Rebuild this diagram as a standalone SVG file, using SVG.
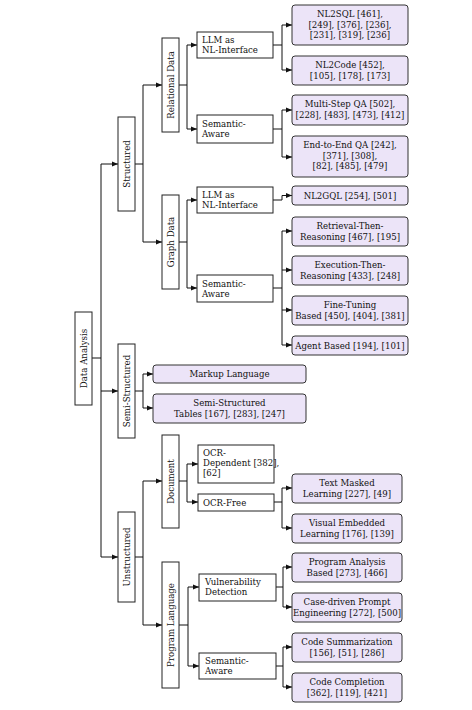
<svg xmlns="http://www.w3.org/2000/svg" width="472" height="710" viewBox="0 0 472 710">
<defs>
<marker id="ah" markerUnits="userSpaceOnUse" markerWidth="6" markerHeight="6" refX="6" refY="3" orient="auto"><path d="M0,0.6 L6,3 L0,5.4 Z" fill="#111"/></marker>
<style>
.n{fill:#fff;stroke:#222;stroke-width:1}
.l{fill:#ece4f8;stroke:#333;stroke-width:1}
text{font-family:"DejaVu Serif","Liberation Serif",serif;font-size:8.6px;fill:#111}
.c{text-anchor:middle}
.v{text-anchor:middle;dominant-baseline:central}
#edges path{fill:none;stroke:#111;stroke-width:1}
.a{marker-end:url(#ah)}
</style>
</defs>
<rect width="472" height="710" fill="#fff"/>
<g id="edges">
<path d="M92,358 H101 M101,164 V557"/>
<path class="a" d="M101,164 H118"/><path class="a" d="M101,391 H118"/><path class="a" d="M101,557 H118"/>
<path d="M135,164 H143 M143,85 V242"/>
<path class="a" d="M143,85 H162"/><path class="a" d="M143,242 H162"/>
<path d="M179,85 H187 M187,45 V129"/>
<path class="a" d="M187,45 H197"/><path class="a" d="M187,129 H197"/>
<path d="M273,45 H282 M282,25 V70"/>
<path class="a" d="M282,25 H292"/><path class="a" d="M282,70 H292"/>
<path d="M273,129 H282 M282,110 V157"/>
<path class="a" d="M282,110 H292"/><path class="a" d="M282,157 H292"/>
<path d="M179,242 H187 M187,200 V288"/>
<path class="a" d="M187,200 H197"/><path class="a" d="M187,288 H197"/>
<path class="a" d="M273,200 H282 V195.5 H292"/>
<path d="M273,288 H282 M282,231 V345"/>
<path class="a" d="M282,231 H292"/><path class="a" d="M282,270 H292"/><path class="a" d="M282,310 H292"/><path class="a" d="M282,345 H292"/>
<path d="M135,391 H143 M143,374 V408"/>
<path class="a" d="M143,374 H153"/><path class="a" d="M143,408 H153"/>
<path d="M135,557 H143 M143,481 V625"/>
<path class="a" d="M143,481 H162"/><path class="a" d="M143,625 H162"/>
<path d="M179,481 H187 M187,464 V502"/>
<path class="a" d="M187,464 H198"/><path class="a" d="M187,502 H198"/>
<path d="M274,502 H282 M282,488 V528"/>
<path class="a" d="M282,488 H292"/><path class="a" d="M282,528 H292"/>
<path d="M179,625 H188 M188,587 V666"/>
<path class="a" d="M188,587 H199"/><path class="a" d="M188,666 H199"/>
<path d="M276,587 H283 M283,567 V607"/>
<path class="a" d="M283,567 H292"/><path class="a" d="M283,607 H292"/>
<path d="M276,666 H283 M283,647 V687"/>
<path class="a" d="M283,647 H292"/><path class="a" d="M283,687 H292"/>
</g>
<g id="data-analysis"><rect class="n" x="75" y="312" width="17" height="93"/><text class="v" transform="translate(83.5,358.5) rotate(-90)">Data Analysis</text></g>
<g id="structured"><rect class="n" x="118" y="117" width="17" height="94"/><text class="v" transform="translate(126.5,164) rotate(-90)">Structured</text></g>
<g id="semi-structured"><rect class="n" x="118" y="344" width="17" height="94"/><text class="v" transform="translate(126.5,391) rotate(-90)">Semi-Structured</text></g>
<g id="unstructured"><rect class="n" x="118" y="512" width="17" height="90"/><text class="v" transform="translate(126.5,557) rotate(-90)">Unstructured</text></g>
<g id="relational-data"><rect class="n" x="162" y="38" width="17" height="94"/><text class="v" transform="translate(170.5,85) rotate(-90)">Relational Data</text></g>
<g id="graph-data"><rect class="n" x="162" y="195" width="17" height="94"/><text class="v" transform="translate(170.5,242) rotate(-90)">Graph Data</text></g>
<g id="document"><rect class="n" x="162" y="435" width="17" height="93"/><text class="v" transform="translate(170.5,481.5) rotate(-90)">Document</text></g>
<g id="program-language"><rect class="n" x="162" y="562" width="17" height="126"/><text class="v" transform="translate(170.5,625) rotate(-90)">Program Language</text></g>
<g id="rel-llm"><rect class="n" x="197" y="32" width="76" height="26"/><text x="202" y="43">LLM as</text><text x="202" y="53">NL-Interface</text></g>
<g id="rel-sem"><rect class="n" x="197" y="115" width="76" height="28"/><text x="202" y="127">Semantic-</text><text x="202" y="137">Aware</text></g>
<g id="graph-llm"><rect class="n" x="197" y="187" width="76" height="26"/><text x="202" y="198">LLM as</text><text x="202" y="208">NL-Interface</text></g>
<g id="graph-sem"><rect class="n" x="197" y="275" width="76" height="27"/><text x="202" y="287">Semantic-</text><text x="202" y="297">Aware</text></g>
<g id="ocr-dep"><rect class="n" x="198" y="445" width="76" height="38"/><text x="203" y="456">OCR-</text><text x="203" y="466">Dependent [382],</text><text x="203" y="476">[62]</text></g>
<g id="ocr-free"><rect class="n" x="198" y="494" width="76" height="17"/><text x="203" y="505.5">OCR-Free</text></g>
<g id="vuln"><rect class="n" x="199" y="574" width="77" height="27"/><text x="205" y="585">Vulnerability</text><text x="205" y="595">Detection</text></g>
<g id="prog-sem"><rect class="n" x="199" y="653" width="77" height="26"/><text x="205" y="664">Semantic-</text><text x="205" y="674">Aware</text></g>
<g id="nl2sql"><rect class="l" x="292" y="5" width="116" height="40" rx="3"/><text class="c" x="350" y="17">NL2SQL [461],</text><text class="c" x="350" y="27.5">[249], [376], [236],</text><text class="c" x="350" y="38">[231], [319], [236]</text></g>
<g id="nl2code"><rect class="l" x="292" y="56" width="116" height="29" rx="3"/><text class="c" x="350" y="68">NL2Code [452],</text><text class="c" x="350" y="78.5">[105], [178], [173]</text></g>
<g id="multistep"><rect class="l" x="292" y="95" width="116" height="30" rx="3"/><text class="c" x="350" y="107">Multi-Step QA [502],</text><text class="c" x="350" y="117.5">[228], [483], [473], [412]</text></g>
<g id="end2end"><rect class="l" x="292" y="136" width="116" height="41" rx="3"/><text class="c" x="350" y="148">End-to-End QA [242],</text><text class="c" x="350" y="158.5">[371], [308],</text><text class="c" x="350" y="169">[82], [485], [479]</text></g>
<g id="nl2gql"><rect class="l" x="292" y="186" width="116" height="19" rx="3"/><text class="c" x="350" y="198.5">NL2GQL [254], [501]</text></g>
<g id="retrieval"><rect class="l" x="292" y="217" width="116" height="29" rx="3"/><text class="c" x="350" y="229">Retrieval-Then-</text><text class="c" x="350" y="239.5">Reasoning [467], [195]</text></g>
<g id="execution"><rect class="l" x="292" y="256" width="116" height="29" rx="3"/><text class="c" x="350" y="268">Execution-Then-</text><text class="c" x="350" y="278.5">Reasoning [433], [248]</text></g>
<g id="finetuning"><rect class="l" x="292" y="296" width="116" height="29" rx="3"/><text class="c" x="350" y="308">Fine-Tuning</text><text class="c" x="350" y="318.5">Based [450], [404], [381]</text></g>
<g id="agent"><rect class="l" x="292" y="336" width="116" height="19" rx="3"/><text class="c" x="350" y="348.5">Agent Based [194], [101]</text></g>
<g id="markup"><rect class="l" x="153" y="365" width="153" height="18" rx="3"/><text class="c" x="229.5" y="377">Markup Language</text></g>
<g id="semi-tables"><rect class="l" x="153" y="394" width="153" height="29" rx="3"/><text class="c" x="229.5" y="406">Semi-Structured</text><text class="c" x="229.5" y="416.5">Tables [167], [283], [247]</text></g>
<g id="text-masked"><rect class="l" x="292" y="474" width="110" height="29" rx="3"/><text class="c" x="347" y="486">Text Masked</text><text class="c" x="347" y="496.5">Learning [227], [49]</text></g>
<g id="visual-embedded"><rect class="l" x="292" y="514" width="110" height="29" rx="3"/><text class="c" x="347" y="526">Visual Embedded</text><text class="c" x="347" y="536.5">Learning [176], [139]</text></g>
<g id="program-analysis"><rect class="l" x="292" y="553" width="110" height="29" rx="3"/><text class="c" x="347" y="565">Program Analysis</text><text class="c" x="347" y="575.5">Based [273], [466]</text></g>
<g id="case-driven"><rect class="l" x="292" y="593" width="110" height="29" rx="3"/><text class="c" x="347" y="605">Case-driven Prompt</text><text class="c" x="347" y="615.5">Engineering [272], [500]</text></g>
<g id="code-summ"><rect class="l" x="292" y="633" width="110" height="29" rx="3"/><text class="c" x="347" y="645">Code Summarization</text><text class="c" x="347" y="655.5">[156], [51], [286]</text></g>
<g id="code-comp"><rect class="l" x="292" y="673" width="110" height="29" rx="3"/><text class="c" x="347" y="685">Code Completion</text><text class="c" x="347" y="695.5">[362], [119], [421]</text></g>
</svg>
